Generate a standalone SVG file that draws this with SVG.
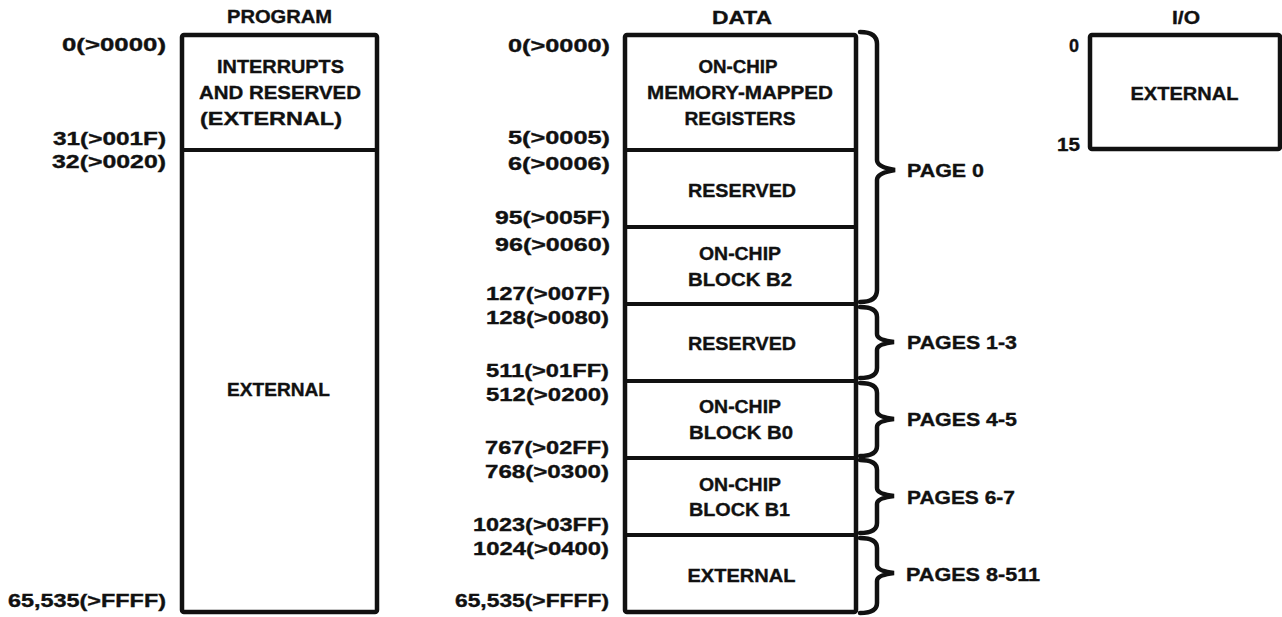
<svg xmlns="http://www.w3.org/2000/svg" width="1282" height="617" viewBox="0 0 1282 617">
<style>
  text { font-family: "Liberation Sans", Arial, sans-serif; font-weight: bold; font-size: 18px; fill: #111; stroke: #111; stroke-width: 0.35; }
  .m { text-anchor: middle; }
  .e { text-anchor: end; }
  .box { fill: #fff; stroke: #111; stroke-width: 4.5; stroke-linejoin: round; }
  .div { stroke: #111; stroke-width: 4; fill: none; }
  .brace { fill: none; stroke: #111; stroke-width: 4.5; stroke-linejoin: miter; stroke-linecap: round; }
</style>
<rect width="1282" height="617" fill="#fff"/>

<g id="program">
  <text class="m" x="279.5" y="23" textLength="105" lengthAdjust="spacingAndGlyphs">PROGRAM</text>
  <rect class="box" x="182" y="35" width="195" height="577" rx="2"/>
  <line class="div" x1="182" y1="150" x2="377" y2="150"/>
  <text class="m" x="280.5" y="73" textLength="127" lengthAdjust="spacingAndGlyphs">INTERRUPTS</text>
  <text class="m" x="280" y="99" textLength="162" lengthAdjust="spacingAndGlyphs">AND RESERVED</text>
  <text class="m" x="271" y="125" textLength="142" lengthAdjust="spacingAndGlyphs">(EXTERNAL)</text>
  <text class="m" x="278.5" y="396" textLength="103" lengthAdjust="spacingAndGlyphs">EXTERNAL</text>
  <text class="e" x="166" y="51" textLength="104" lengthAdjust="spacingAndGlyphs">0(&gt;0000)</text>
  <text class="e" x="166" y="145" textLength="113" lengthAdjust="spacingAndGlyphs">31(&gt;001F)</text>
  <text class="e" x="166" y="168" textLength="114" lengthAdjust="spacingAndGlyphs">32(&gt;0020)</text>
  <text class="e" x="166" y="607" textLength="158" lengthAdjust="spacingAndGlyphs">65,535(&gt;FFFF)</text>
</g>

<g id="data">
  <text class="m" x="742" y="24" textLength="60" lengthAdjust="spacingAndGlyphs">DATA</text>
  <rect class="box" x="625" y="35" width="231" height="577" rx="2"/>
  <line class="div" x1="625" y1="150" x2="856" y2="150"/>
  <line class="div" x1="625" y1="227" x2="856" y2="227"/>
  <line class="div" x1="625" y1="304" x2="856" y2="304"/>
  <line class="div" x1="625" y1="381" x2="856" y2="381"/>
  <line class="div" x1="625" y1="458" x2="856" y2="458"/>
  <line class="div" x1="625" y1="535" x2="856" y2="535"/>

  <text class="m" x="738" y="73" textLength="79" lengthAdjust="spacingAndGlyphs">ON-CHIP</text>
  <text class="m" x="740" y="99" textLength="186" lengthAdjust="spacingAndGlyphs">MEMORY-MAPPED</text>
  <text class="m" x="740" y="125" textLength="111" lengthAdjust="spacingAndGlyphs">REGISTERS</text>
  <text class="m" x="742" y="197" textLength="108" lengthAdjust="spacingAndGlyphs">RESERVED</text>
  <text class="m" x="740" y="260" textLength="82" lengthAdjust="spacingAndGlyphs">ON-CHIP</text>
  <text class="m" x="740" y="286" textLength="104" lengthAdjust="spacingAndGlyphs">BLOCK B2</text>
  <text class="m" x="742" y="350" textLength="108" lengthAdjust="spacingAndGlyphs">RESERVED</text>
  <text class="m" x="740" y="413" textLength="82" lengthAdjust="spacingAndGlyphs">ON-CHIP</text>
  <text class="m" x="741" y="439" textLength="104" lengthAdjust="spacingAndGlyphs">BLOCK B0</text>
  <text class="m" x="740" y="491" textLength="82" lengthAdjust="spacingAndGlyphs">ON-CHIP</text>
  <text class="m" x="739.5" y="516" textLength="101" lengthAdjust="spacingAndGlyphs">BLOCK B1</text>
  <text class="m" x="741.5" y="582" textLength="108" lengthAdjust="spacingAndGlyphs">EXTERNAL</text>

  <text class="e" x="610" y="52" textLength="102" lengthAdjust="spacingAndGlyphs">0(&gt;0000)</text>
  <text class="e" x="610" y="144" textLength="102" lengthAdjust="spacingAndGlyphs">5(&gt;0005)</text>
  <text class="e" x="610" y="170" textLength="102" lengthAdjust="spacingAndGlyphs">6(&gt;0006)</text>
  <text class="e" x="610" y="224" textLength="115" lengthAdjust="spacingAndGlyphs">95(&gt;005F)</text>
  <text class="e" x="610" y="251" textLength="115" lengthAdjust="spacingAndGlyphs">96(&gt;0060)</text>
  <text class="e" x="610" y="300" textLength="124" lengthAdjust="spacingAndGlyphs">127(&gt;007F)</text>
  <text class="e" x="609" y="324" textLength="123" lengthAdjust="spacingAndGlyphs">128(&gt;0080)</text>
  <text class="e" x="609" y="377" textLength="123" lengthAdjust="spacingAndGlyphs">511(&gt;01FF)</text>
  <text class="e" x="609" y="401" textLength="123" lengthAdjust="spacingAndGlyphs">512(&gt;0200)</text>
  <text class="e" x="609" y="454" textLength="124" lengthAdjust="spacingAndGlyphs">767(&gt;02FF)</text>
  <text class="e" x="609" y="478" textLength="124" lengthAdjust="spacingAndGlyphs">768(&gt;0300)</text>
  <text class="e" x="609" y="531" textLength="136" lengthAdjust="spacingAndGlyphs">1023(&gt;03FF)</text>
  <text class="e" x="609" y="555" textLength="136" lengthAdjust="spacingAndGlyphs">1024(&gt;0400)</text>
  <text class="e" x="609" y="607" textLength="154" lengthAdjust="spacingAndGlyphs">65,535(&gt;FFFF)</text>
</g>

<g id="io">
  <text class="m" x="1186" y="24" textLength="28" lengthAdjust="spacingAndGlyphs">I/O</text>
  <rect class="box" x="1090" y="35" width="190" height="114" rx="2"/>
  <text class="m" x="1184.5" y="100" textLength="108" lengthAdjust="spacingAndGlyphs">EXTERNAL</text>
  <text class="e" x="1079" y="52">0</text>
  <text class="e" x="1080" y="151" textLength="23" lengthAdjust="spacingAndGlyphs">15</text>
</g>

<g id="connectors">
  <path class="brace" d="M860,32 Q877,32 877,44 L877,160 Q877,167 895,170 Q877,173 877,180 L877,290 Q877,302 860,302"/>
  <path class="brace" d="M860,307 Q877,307 877,317 L877,334 Q877,340 894,342 Q877,344 877,350 L877,368 Q877,378 860,378"/>
  <path class="brace" d="M860,383 Q877,383 877,393 L877,411 Q877,417 894,419 Q877,421 877,427 L877,446 Q877,456 860,456"/>
  <path class="brace" d="M860,460 Q877,460 877,470 L877,488 Q877,494 894,496 Q877,498 877,504 L877,523 Q877,533 860,533"/>
  <path class="brace" d="M860,538 Q877,538 877,548 L877,565 Q877,571 894,573 Q877,575 877,581 L877,603 Q877,613 860,613"/>
</g>

<g id="page-labels">
  <text x="907" y="177" textLength="77" lengthAdjust="spacingAndGlyphs">PAGE 0</text>
  <text x="907" y="349" textLength="110" lengthAdjust="spacingAndGlyphs">PAGES 1-3</text>
  <text x="907" y="426" textLength="110" lengthAdjust="spacingAndGlyphs">PAGES 4-5</text>
  <text x="907" y="504" textLength="108" lengthAdjust="spacingAndGlyphs">PAGES 6-7</text>
  <text x="906" y="581" textLength="134" lengthAdjust="spacingAndGlyphs">PAGES 8-511</text>
</g>
</svg>
